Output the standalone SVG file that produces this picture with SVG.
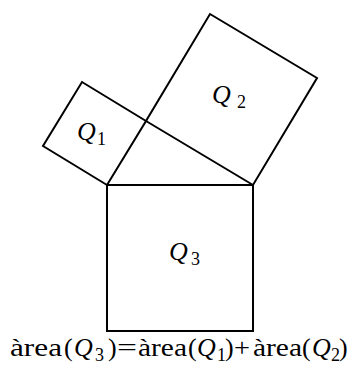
<svg xmlns="http://www.w3.org/2000/svg" width="348" height="365" viewBox="0 0 348 365">
<style>
.sq{fill:none;stroke:#000;stroke-width:2;stroke-linejoin:miter}
.t{font-family:"Liberation Serif","DejaVu Serif",serif;font-size:26px;fill:#000}
.i{font-style:italic}
.s{font-size:18px}
</style>
<rect width="348" height="365" fill="#fff"/>
<g id="Q1"><polygon class="sq" points="107,185 146,121 82,82 43,146"/>
<text class="t i" x="77" y="140">Q</text><text class="t s" x="97" y="145">1</text></g>
<g id="Q2"><polygon class="sq" points="146,121 253,185 317,78 210,14"/>
<text class="t i" x="212" y="103">Q</text><text class="t s" x="237" y="108">2</text></g>
<g id="Q3"><polygon class="sq" points="107,185 253,185 253,331 107,331"/>
<text class="t i" x="169" y="260">Q</text><text class="t s" x="191" y="265">3</text></g>
<g id="formula">
<text class="t" x="10" y="356" textLength="52" lengthAdjust="spacingAndGlyphs">àrea</text>
<text class="t" x="64" y="356">(</text>
<text class="t i" x="74" y="356">Q</text>
<text class="t s" x="95" y="361">3</text>
<text class="t" x="108" y="356">)</text>
<text class="t" x="117" y="356" textLength="20" lengthAdjust="spacingAndGlyphs">=</text>
<text class="t" x="138" y="356" textLength="49" lengthAdjust="spacingAndGlyphs">àrea</text>
<text class="t" x="188" y="356">(</text>
<text class="t i" x="197" y="356">Q</text>
<text class="t s" x="217" y="361">1</text>
<text class="t" x="225" y="356">)</text>
<text class="t" x="234" y="356" textLength="16" lengthAdjust="spacingAndGlyphs">+</text>
<text class="t" x="253" y="356" textLength="49" lengthAdjust="spacingAndGlyphs">àrea</text>
<text class="t" x="302" y="356">(</text>
<text class="t i" x="312" y="356">Q</text>
<text class="t s" x="331" y="361">2</text>
<text class="t" x="339" y="356">)</text>
</g>
</svg>
